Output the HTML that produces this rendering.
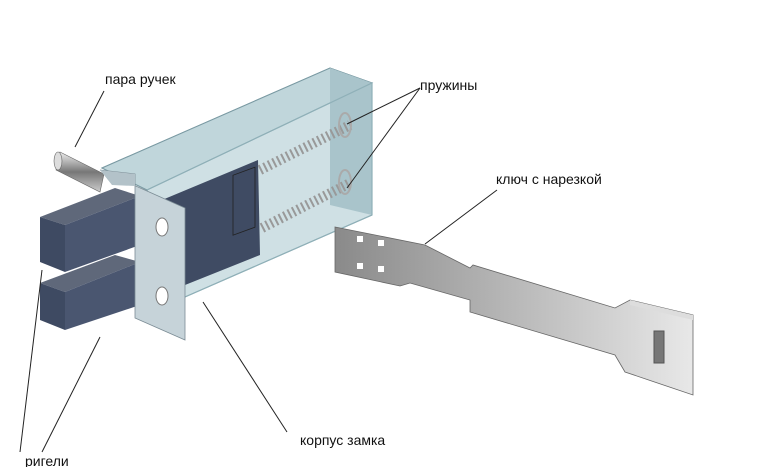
<!DOCTYPE html>
<html><head><meta charset="utf-8"><style>
html,body{margin:0;padding:0;background:#fff;width:758px;height:467px;overflow:hidden}
svg{display:block}
text{font-family:"Liberation Sans",sans-serif;font-size:14px;fill:#111}
</style></head><body>
<svg width="758" height="467" viewBox="0 0 758 467">
<defs>
<linearGradient id="cyl" x1="0" y1="0" x2="0" y2="1"><stop offset="0" stop-color="#eee"/><stop offset=".5" stop-color="#777"/><stop offset="1" stop-color="#ccc"/></linearGradient>
<linearGradient id="key" x1="0" y1="0" x2="1" y2="0"><stop offset="0" stop-color="#8a8a8a"/><stop offset=".5" stop-color="#b8b8b8"/><stop offset="1" stop-color="#e8e8e8"/></linearGradient>
</defs>
<polygon points="60,152 104,174 100,192 56,170" fill="url(#cyl)" stroke="#666" stroke-width=".6"/>
<ellipse cx="58" cy="161" rx="4" ry="9" fill="#ddd" stroke="#666" stroke-width=".6"/>
<polygon points="102,168 330,68 372,83 372,215 185,297 147,190" fill="#cfe0e4" stroke="#7a9aa3" stroke-width="1"/>
<polygon points="102,168 330,68 372,83 147,190" fill="#c0d6db" stroke="#7a9aa3"/>
<polygon points="330,68 372,83 372,215 330,205" fill="#a9c4cb"/>
<polygon points="150,205 258,160 260,255 185,285" fill="#3f4b63"/>
<rect x="233" y="175" width="22" height="60" fill="none" stroke="#222" stroke-width=".8" transform="skewY(-20) translate(0,85)"/>
<g stroke="#999" stroke-width="2" fill="none">
<path d="M260,170 L350,125" stroke-dasharray="2 3" stroke-width="10"/>
<path d="M262,228 L350,183" stroke-dasharray="2 3" stroke-width="10"/>
</g>
<ellipse cx="345" cy="125" rx="6" ry="12" fill="none" stroke="#aaa" stroke-width="2"/>
<ellipse cx="345" cy="182" rx="6" ry="12" fill="none" stroke="#aaa" stroke-width="2"/>
<polyline points="147,190 372,83 372,215 185,297" fill="none" stroke="#8fb0b8" stroke-width="1.2"/>
<polygon points="40,217 115,188 140,196 65,225" fill="#5f687a"/>
<polygon points="40,217 65,225 65,272 40,262" fill="#3e4a62"/>
<polygon points="65,225 140,196 140,245 65,272" fill="#4a5670"/>
<polygon points="40,283 115,255 140,262 65,292" fill="#5f687a"/>
<polygon points="40,283 65,292 65,330 40,320" fill="#3e4a62"/>
<polygon points="65,292 140,262 140,305 65,330" fill="#4a5670"/>
<polygon points="100,170 185,208 185,340 135,318 135,174" fill="#c6d3d9" stroke="#7a8b94" stroke-width=".8"/>
<polygon points="100,170 135,174 135,186 112,185" fill="#b3c2c9"/>
<ellipse cx="162" cy="227" rx="6" ry="9" fill="#fff" stroke="#777"/>
<ellipse cx="162" cy="296" rx="6" ry="9" fill="#fff" stroke="#777"/>
<polygon points="335,227 425,245 470,268 473,265 615,308 630,300 693,315 693,395 625,372 615,355 470,312 470,300 410,283 400,286 335,272" fill="url(#key)" stroke="#666" stroke-width=".8"/>
<polygon points="630,300 693,315 693,320 630,305" fill="#ddd"/>
<rect x="654" y="331" width="10" height="32" fill="#777" stroke="#555"/>
<rect x="357" y="236" width="6" height="6" fill="#fff"/><rect x="378" y="240" width="6" height="6" fill="#fff"/>
<rect x="357" y="263" width="6" height="6" fill="#fff"/><rect x="378" y="266" width="6" height="6" fill="#fff"/>
<g stroke="#222" stroke-width="1">
<line x1="104" y1="91" x2="75" y2="147"/>
<line x1="420" y1="88" x2="347" y2="124"/>
<line x1="420" y1="88" x2="347" y2="188"/>
<line x1="497" y1="190" x2="425" y2="244"/>
<line x1="203" y1="302" x2="287" y2="432"/>
<line x1="42" y1="270" x2="20" y2="452"/>
<line x1="100" y1="337" x2="42" y2="452"/>
</g>
<text x="105" y="84">пара ручек</text>
<text x="420" y="90">пружины</text>
<text x="496" y="184">ключ с нарезкой</text>
<text x="300" y="445">корпус замка</text>
<text x="25" y="466">ригели</text>
</svg>
</body></html>
